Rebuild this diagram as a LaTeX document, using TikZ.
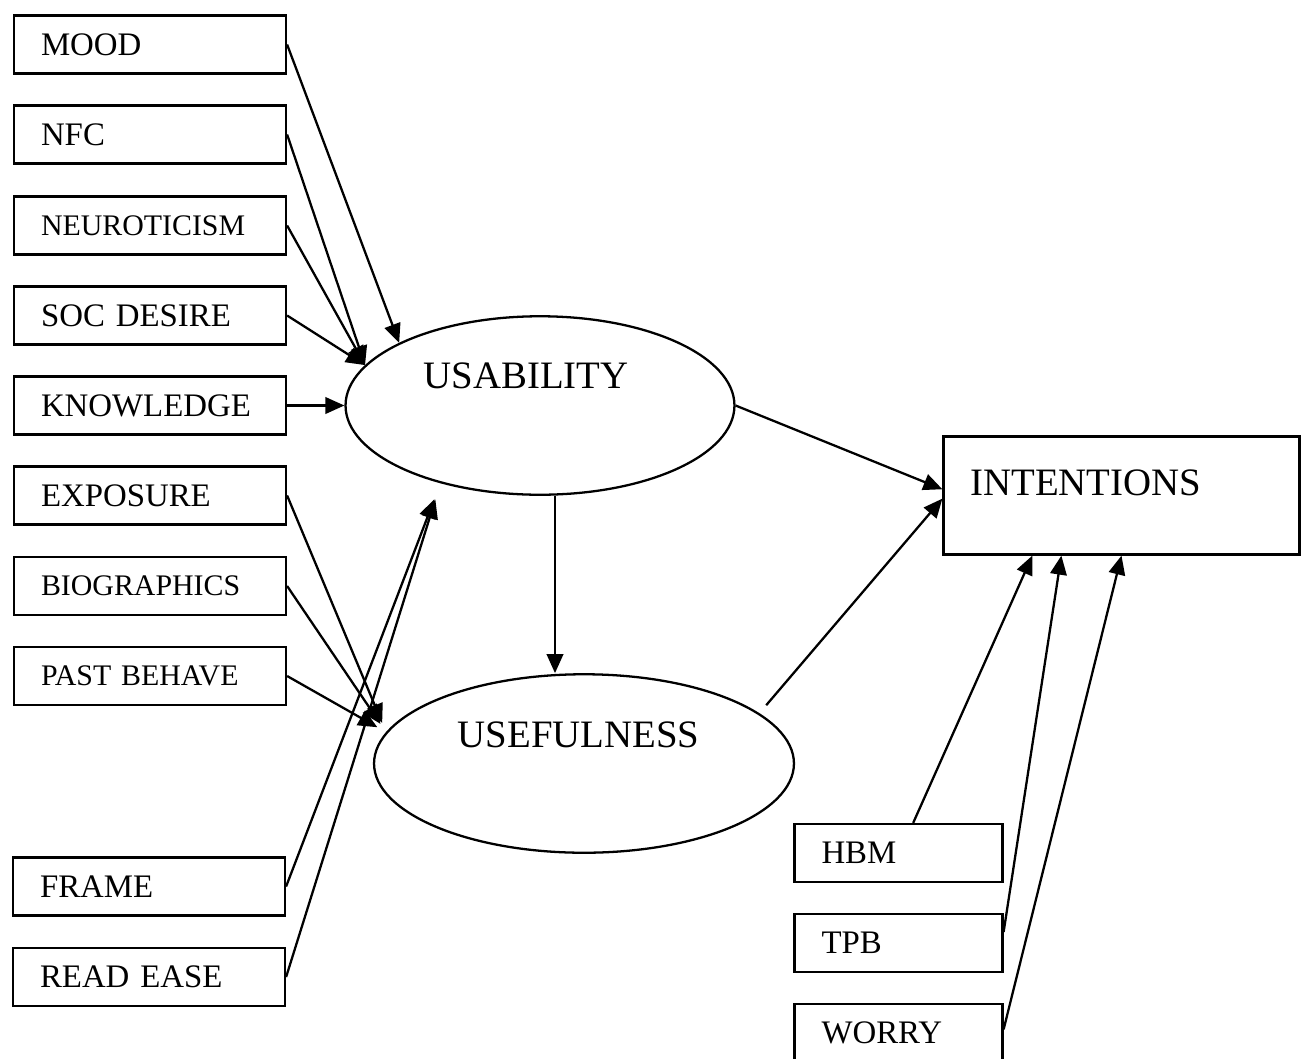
\documentclass[tikz,border=0pt]{standalone}
\usepackage{fontspec}
\setmainfont{Liberation Serif}
\usetikzlibrary{shapes.geometric, arrows.meta, calc}
\def \FontN {\fontsize{18.7}{22}\selectfont}
\def \FontS {\fontsize{17}{20}\selectfont}
\def \FontL {\fontsize{22.1}{26}\selectfont}

\begin{document}
\begin{tikzpicture}[
    x=0.02cm, y=-0.02cm,
    factor/.style={
        rectangle,
        draw,
        line width=1.3pt,
        minimum width=5.44cm,
        minimum height=1.16cm,
        text width=4.36cm,
        inner xsep=0.54cm,
        align=left,
        font=\FontN
    },
    theory/.style={
        factor,
        minimum width=4.16cm,
        text width=3.08cm
    },
    construct/.style={
        ellipse,
        draw,
        line width=1.3pt,
        minimum width=#1,
        minimum height=3.57cm
    },
    outcome/.style={
        rectangle,
        draw,
        line width=1.3pt,
        minimum width=7.12cm,
        minimum height=2.36cm,
        text width=6.04cm,
        inner xsep=0.54cm,
        text depth=0.5cm,
        align=left,
        font=\FontL
    },
    arrow/.style={
        -{Triangle[length=0.38cm, width=0.33cm]},
        line width=1.3pt
    }
]
\useasboundingbox (0,0) rectangle (1303,1059);

% Antecedent boxes
\node[factor] (mood) at (150,44.5) {MOOD};
\node[factor] (nfc) at (150,134.5) {NFC};
\node[factor, font=\FontS] (neuroticism) at (150,225.5) {NEUROTICISM};
\node[factor] (socdesire) at (150,315.5) {SOC DESIRE};
\node[factor] (knowledge) at (150,405.5) {KNOWLEDGE};
\node[factor] (exposure) at (150,495.5) {EXPOSURE};
\node[factor, font=\FontS] (biographics) at (150,586) {BIOGRAPHICS};
\node[factor, font=\FontS] (pastbehave) at (150,676) {PAST BEHAVE};
\node[factor] (frame) at (149,886.5) {FRAME};
\node[factor] (readease) at (149,977) {READ EASE};

% Perception ellipses
\node[construct=7.78cm, label={[font=\FontL, xshift=-0.28cm, yshift=0.6cm]center:USABILITY}] (usability) at (540,405.5) {};
\node[construct=8.4cm, label={[font=\FontL, xshift=-0.11cm, yshift=0.58cm]center:USEFULNESS}] (usefulness) at (584,763.5) {};

% Outcome and theory boxes
\node[outcome] (intentions) at (1121.5,495.5) {INTENTIONS};
\node[theory] (hbm) at (898.5,853) {HBM};
\node[theory] (tpb) at (898.5,943) {TPB};
\node[theory] (worry) at (898.5,1033) {WORRY};

% Draw connecting arrows
\draw[arrow] (mood.east) -- (usability.156);
\draw[arrow] (nfc.east) -- (usability.167);
\draw[arrow] (neuroticism.east) -- (usability.167);
\draw[arrow] (socdesire.east) -- (usability.167);
\draw[arrow] (knowledge.east) -- (usability.west);

\draw[arrow, shorten >=0.2cm] (exposure.east) -- (usefulness.171);
\draw[arrow, shorten >=0.2cm] (biographics.east) -- (usefulness.171);
\draw[arrow, shorten >=0.2cm] (pastbehave.east) -- (usefulness.171);

\draw[arrow, shorten >=0.34cm] (frame.east) -- (usability.218);
\draw[arrow, shorten >=0.34cm] (readease.east) -- (usability.218);

\draw[arrow] ([xshift=0.3cm]usability.south) -- ([xshift=0.3cm]usability.south |- usefulness.north);

\draw[arrow] (usability.east) -- (intentions.178);
\draw[arrow, shorten <=0.21cm] (usefulness.16) -- (intentions.181);

\draw[arrow] (hbm.64) -- (intentions.214);
\draw[arrow] (tpb.6) -- (intentions.225);
\draw[arrow] (worry.2) -- (intentions.south);

\end{tikzpicture}
\end{document}
